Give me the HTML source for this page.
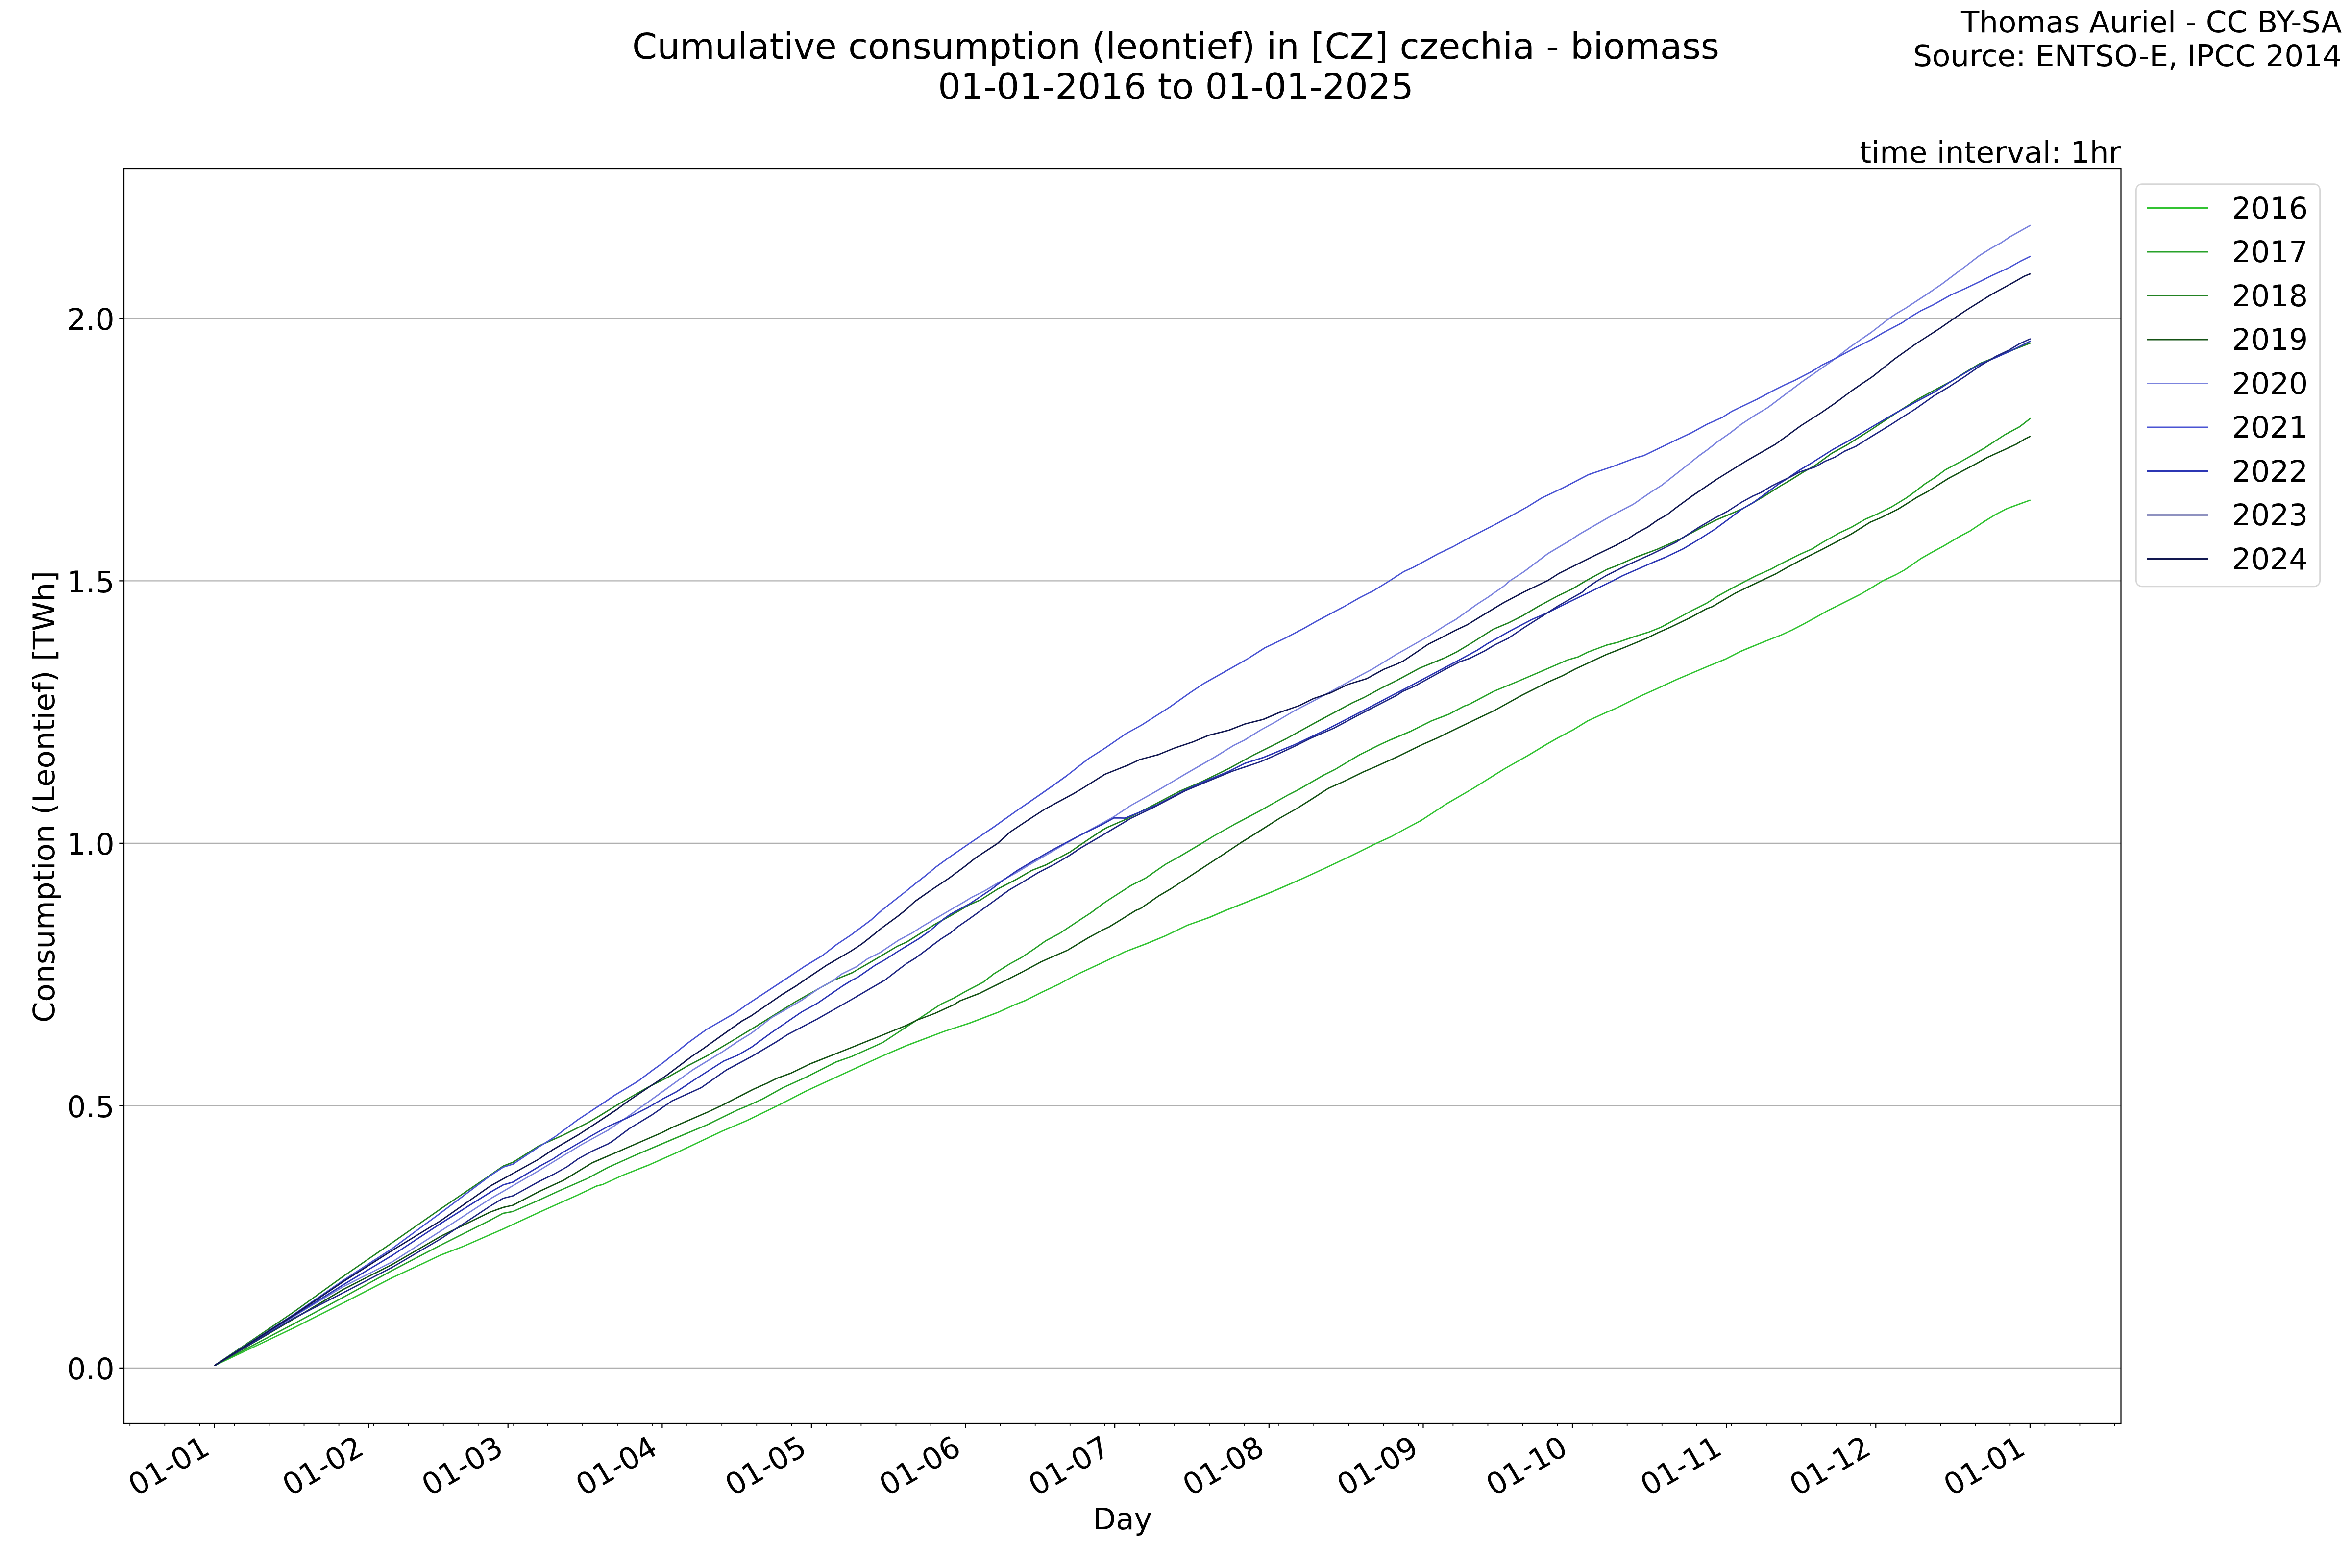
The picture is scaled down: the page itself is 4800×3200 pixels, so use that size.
<!DOCTYPE html>
<html><head><meta charset="utf-8"><title>Cumulative consumption</title>
<style>html,body{margin:0;padding:0;background:#fff}svg{display:block}text{font-family:"DejaVu Sans","Liberation Sans",sans-serif;fill:#000}</style></head><body>
<svg width="4800" height="3200" viewBox="0 0 4800 3200">
<rect width="4800" height="3200" fill="#fff"/>
<line x1="253.0" x2="4328.5" y1="2791.80" y2="2791.80" stroke="#b0b0b0" stroke-width="2.22"/>
<line x1="253.0" x2="4328.5" y1="2256.35" y2="2256.35" stroke="#b0b0b0" stroke-width="2.22"/>
<line x1="253.0" x2="4328.5" y1="1720.90" y2="1720.90" stroke="#b0b0b0" stroke-width="2.22"/>
<line x1="253.0" x2="4328.5" y1="1185.45" y2="1185.45" stroke="#b0b0b0" stroke-width="2.22"/>
<line x1="253.0" x2="4328.5" y1="650.00" y2="650.00" stroke="#b0b0b0" stroke-width="2.22"/>
<clipPath id="c"><rect x="253.0" y="344.0" width="4075.5" height="2561.0"/></clipPath>
<g clip-path="url(#c)" fill="none" stroke-width="2.78" stroke-linejoin="round" stroke-linecap="butt">
<polyline stroke="#32c332" points="437.6,2787.0 600.0,2709.8 700.0,2659.3 800.0,2607.8 864.8,2577.7 900.0,2561.1 946.4,2543.2 1000.0,2519.7 1025.5,2508.8 1100.0,2474.3 1147.8,2452.8 1179.7,2438.5 1218.0,2420.3 1230.7,2417.1 1272.2,2398.0 1323.2,2377.9 1380.6,2352.4 1473.1,2308.7 1524.1,2287.0 1587.9,2256.1 1645.3,2226.4 1721.8,2191.3 1801.5,2154.7 1850.0,2133.9 1927.3,2104.7 1978.3,2088.1 2035.7,2066.4 2070.8,2050.5 2093.1,2041.6 2125.0,2025.6 2163.3,2007.4 2195.2,1989.9 2250.0,1964.4 2295.7,1942.5 2340.3,1925.6 2378.6,1909.7 2423.2,1888.3 2467.9,1872.4 2499.7,1858.6 2541.2,1842.1 2589.0,1822.9 2611.4,1813.4 2659.2,1792.6 2703.8,1771.9 2761.2,1744.8 2805.9,1722.5 2837.8,1708.1 2869.6,1690.6 2901.5,1673.7 2950.0,1641.8 3007.3,1608.4 3071.0,1568.6 3118.9,1541.5 3157.1,1518.5 3179.5,1505.8 3211.4,1488.9 3240.1,1471.3 3278.3,1453.8 3297.4,1445.8 3348.5,1420.3 3380.4,1406.0 3421.8,1386.8 3485.6,1359.7 3520.7,1345.4 3550.0,1330.4 3564.8,1324.1 3599.9,1309.8 3634.9,1296.0 3657.3,1285.8 3682.8,1272.4 3705.1,1260.3 3727.4,1247.6 3756.1,1233.2 3794.4,1214.1 3816.7,1201.3 3842.2,1185.4 3867.7,1173.6 3886.9,1163.1 3918.8,1140.8 3941.1,1128.0 3966.6,1114.3 3998.5,1095.2 4020.8,1083.4 4049.5,1064.2 4071.8,1050.5 4094.1,1038.7 4106.9,1033.9 4143.6,1020.5"/>
<polyline stroke="#28a22a" points="437.6,2787.0 600.0,2701.4 700.0,2647.8 800.0,2593.0 900.0,2540.7 1000.0,2490.4 1026.8,2476.1 1047.2,2472.3 1100.0,2449.3 1138.3,2431.4 1198.9,2405.0 1240.3,2382.7 1297.7,2357.1 1371.0,2325.9 1444.4,2295.0 1463.5,2285.4 1505.0,2265.3 1527.3,2256.1 1556.0,2243.0 1597.4,2220.0 1645.3,2198.3 1705.9,2167.4 1737.8,2156.2 1801.5,2127.6 1850.0,2095.7 1871.5,2081.7 1920.9,2048.9 1946.4,2037.1 1968.8,2024.3 2007.0,2004.2 2029.3,1986.7 2061.2,1966.9 2083.5,1954.8 2112.2,1935.7 2134.6,1919.7 2163.3,1904.4 2201.5,1878.9 2227.0,1862.3 2250.0,1844.8 2263.8,1835.7 2308.4,1807.0 2337.1,1792.6 2378.6,1763.9 2407.3,1748.0 2451.9,1721.5 2477.4,1705.9 2518.9,1682.6 2569.9,1655.5 2630.5,1621.4 2649.6,1611.8 2700.6,1582.2 2726.1,1569.4 2774.0,1540.7 2815.4,1520.0 2838.3,1509.6 2879.7,1492.1 2921.2,1471.3 2956.2,1457.9 2988.1,1441.0 2997.7,1437.8 3048.7,1410.7 3096.6,1391.0 3150.8,1367.7 3198.6,1347.0 3220.9,1340.6 3240.1,1331.0 3278.3,1316.7 3300.6,1311.2 3335.7,1299.1 3364.4,1290.2 3389.9,1280.0 3450.0,1247.6 3481.9,1231.6 3504.2,1217.3 3536.1,1199.7 3564.8,1184.8 3583.9,1174.9 3615.8,1160.8 3631.8,1151.9 3673.2,1131.2 3698.7,1120.0 3717.9,1107.9 3752.9,1088.1 3778.4,1076.0 3807.1,1059.4 3832.7,1048.3 3861.4,1033.9 3890.1,1016.4 3909.2,1002.7 3928.3,987.7 3950.6,973.3 3969.8,959.0 4001.7,942.1 4032.2,924.7 4051.4,913.5 4070.5,900.8 4092.8,886.4 4121.5,871.1 4143.9,853.6"/>
<polyline stroke="#228222" points="437.6,2787.0 600.0,2677.1 700.0,2605.2 800.0,2536.3 900.0,2466.7 1000.0,2398.6 1026.8,2379.9 1047.2,2371.8 1100.0,2338.4 1147.8,2317.3 1198.9,2291.8 1224.4,2276.8 1259.4,2255.1 1278.6,2243.9 1323.2,2218.4 1361.5,2199.3 1406.1,2173.8 1442.8,2154.7 1501.8,2119.6 1546.4,2092.5 1623.0,2044.6 1674.0,2015.9 1702.7,2000.0 1739.2,1985.1 1780.6,1961.2 1831.6,1930.9 1850.8,1922.3 1908.2,1886.3 1940.1,1868.7 1978.3,1846.4 2000.6,1836.8 2035.7,1814.5 2074.0,1794.7 2105.9,1776.2 2134.6,1765.1 2182.4,1739.6 2217.5,1715.7 2250.0,1694.0 2259.4,1688.8 2296.1,1672.8 2355.1,1642.5 2406.1,1615.4 2450.8,1596.3 2508.2,1568.2 2556.0,1542.1 2623.0,1508.6 2686.7,1473.5 2760.1,1434.3 2782.4,1424.1 2820.7,1403.4 2850.0,1389.0 2896.7,1363.7 2947.7,1342.9 2973.2,1330.2 3005.1,1311.1 3046.6,1284.6 3078.4,1271.2 3107.1,1256.8 3139.0,1237.7 3180.5,1215.4 3209.2,1201.7 3237.9,1184.5 3279.3,1162.1 3298.5,1154.8 3339.9,1136.6 3381.4,1121.3 3426.0,1101.6 3467.5,1079.2 3500.0,1062.3 3523.3,1052.4 3555.2,1038.7 3577.6,1026.0 3603.1,1011.0 3634.9,990.9 3654.1,979.7 3679.6,963.8 3705.1,949.4 3738.9,924.7 3770.8,907.2 3818.6,876.9 3866.4,845.0 3911.1,816.3 3946.1,797.1 3981.2,778.6 4009.9,760.5 4041.8,741.3 4073.7,728.6 4105.6,714.9 4143.9,699.9"/>
<polyline stroke="#155215" points="437.6,2787.0 600.0,2691.2 700.0,2631.7 800.0,2580.7 900.0,2522.8 1000.0,2473.8 1026.8,2464.1 1047.2,2459.5 1100.0,2431.7 1151.0,2408.2 1208.4,2373.1 1278.6,2342.8 1351.9,2310.9 1371.0,2301.3 1444.4,2269.5 1473.1,2256.1 1536.9,2223.2 1565.6,2210.5 1584.7,2200.9 1613.4,2190.4 1654.8,2170.6 1737.8,2137.8 1801.5,2112.2 1850.0,2092.5 1871.5,2081.7 1908.2,2068.0 1946.4,2050.5 1959.2,2042.5 2000.6,2026.6 2026.1,2013.8 2058.0,1997.9 2083.5,1985.1 2125.0,1962.8 2144.1,1954.2 2179.2,1938.9 2201.5,1925.5 2220.7,1914.0 2250.0,1898.1 2263.8,1891.5 2318.0,1858.0 2327.6,1854.2 2365.8,1827.7 2391.3,1812.7 2467.9,1762.3 2499.7,1741.6 2531.6,1720.3 2576.3,1692.2 2611.4,1669.9 2646.4,1650.1 2678.3,1630.0 2710.2,1609.3 2742.1,1594.9 2783.5,1574.8 2805.9,1565.3 2850.5,1544.9 2901.5,1520.0 2933.9,1505.8 2978.6,1484.1 3048.7,1450.6 3106.1,1418.7 3160.3,1391.6 3189.0,1378.9 3214.5,1365.5 3278.3,1335.8 3316.6,1320.8 3361.2,1302.3 3383.5,1291.2 3409.1,1280.0 3450.0,1260.3 3481.9,1242.8 3494.6,1238.0 3542.5,1209.9 3593.5,1185.4 3625.4,1170.4 3647.7,1157.7 3679.6,1140.8 3721.0,1120.0 3778.4,1089.7 3816.7,1065.8 3839.0,1056.2 3874.1,1038.7 3912.4,1014.8 3934.7,1002.7 3976.1,976.5 4030.4,947.8 4055.9,933.5 4089.6,918.3 4115.2,906.2 4131.1,896.6 4143.9,890.3"/>
<polyline stroke="#7c84de" points="437.6,2787.0 600.0,2686.1 700.0,2626.1 800.0,2575.6 900.0,2511.8 1000.0,2446.8 1100.0,2388.9 1186.1,2336.4 1218.0,2318.9 1240.3,2306.8 1278.6,2280.6 1323.2,2248.7 1351.9,2228.0 1380.6,2207.3 1412.5,2184.3 1473.1,2147.3 1505.0,2126.0 1533.7,2108.4 1575.1,2076.5 1635.7,2041.5 1670.8,2017.5 1699.5,2001.6 1716.8,1988.3 1748.7,1972.4 1771.0,1956.4 1796.6,1943.7 1834.8,1918.2 1860.3,1904.8 1882.7,1890.4 1911.4,1873.5 1940.1,1856.6 1968.8,1840.0 1981.5,1832.1 2010.2,1817.7 2042.1,1798.6 2074.0,1781.0 2105.9,1761.9 2144.1,1739.6 2201.5,1706.1 2250.0,1679.6 2273.8,1666.4 2307.3,1644.1 2361.5,1613.8 2396.6,1593.1 2418.9,1579.7 2476.3,1546.8 2517.7,1521.3 2540.1,1510.2 2571.9,1490.4 2603.8,1472.9 2638.9,1452.1 2680.4,1430.5 2725.0,1406.5 2769.6,1382.0 2801.5,1365.1 2850.0,1335.4 2912.6,1299.9 2947.7,1277.6 2970.0,1264.8 3014.7,1232.9 3037.0,1218.6 3068.9,1196.3 3081.6,1185.1 3110.3,1166.6 3158.2,1130.3 3202.8,1103.8 3221.9,1091.0 3292.1,1050.5 3333.5,1028.9 3371.8,1002.7 3390.9,990.6 3438.8,953.0 3467.5,930.0 3483.8,918.3 3506.1,900.8 3531.6,883.2 3553.9,865.7 3579.4,848.8 3608.1,831.6 3643.2,805.1 3678.3,778.6 3707.0,758.9 3738.9,736.6 3777.1,707.2 3818.6,678.5 3860.1,646.6 3869.6,640.3 3888.8,629.1 3930.2,602.0 3962.1,580.3 3994.0,556.4 4013.1,542.0 4038.6,522.3 4064.1,506.3 4083.3,495.8 4102.4,483.0 4143.9,459.8"/>
<polyline stroke="#4a54d3" points="437.6,2787.0 600.0,2682.2 700.0,2613.4 800.0,2548.3 900.0,2474.8 1000.0,2399.6 1026.8,2382.0 1047.2,2375.6 1100.0,2340.4 1131.9,2320.5 1179.7,2284.8 1227.6,2253.5 1253.1,2236.0 1300.9,2207.3 1332.8,2183.4 1355.1,2167.4 1402.9,2129.1 1441.2,2101.4 1501.8,2066.3 1524.1,2050.4 1600.6,2000.0 1640.3,1973.3 1678.6,1950.0 1707.3,1927.7 1736.0,1908.6 1777.4,1877.7 1799.7,1857.6 1844.4,1822.5 1869.9,1801.8 1889.0,1786.8 1911.4,1768.3 1940.1,1747.6 1978.3,1721.4 2029.3,1687.0 2074.0,1655.1 2125.0,1620.0 2154.2,1599.5 2176.5,1583.5 2221.2,1548.4 2256.2,1526.1 2297.7,1497.4 2329.6,1479.9 2387.0,1443.2 2428.4,1413.9 2457.1,1394.7 2508.2,1366.0 2546.4,1344.4 2581.5,1322.0 2623.0,1302.3 2661.2,1282.2 2686.7,1267.8 2740.9,1239.1 2774.4,1220.0 2804.2,1204.9 2836.1,1185.1 2864.8,1166.6 2883.9,1158.0 2934.9,1130.3 2966.8,1114.9 2995.5,1099.0 3056.1,1067.8 3088.0,1050.5 3116.7,1034.6 3145.4,1016.7 3190.1,995.4 3241.1,968.9 3292.1,951.7 3339.9,933.8 3354.3,930.0 3420.0,898.2 3451.9,883.2 3483.8,865.7 3515.7,851.4 3534.8,839.2 3585.8,814.7 3617.7,797.8 3643.2,785.0 3662.3,776.4 3697.4,758.2 3716.6,746.1 3745.3,731.8 3786.7,709.5 3818.6,693.5 3844.1,678.5 3882.4,658.4 3898.3,647.3 3920.6,633.9 3946.1,621.8 3981.2,602.0 4009.9,589.2 4041.8,573.9 4064.1,562.8 4099.2,546.8 4121.5,534.1 4143.9,522.9"/>
<polyline stroke="#2c36b4" points="437.6,2787.0 600.0,2685.1 700.0,2622.3 800.0,2562.3 900.0,2496.5 1000.0,2433.5 1026.8,2418.2 1047.2,2412.3 1100.0,2380.7 1128.7,2365.1 1147.8,2352.4 1205.2,2318.9 1240.3,2299.1 1278.6,2282.2 1323.2,2259.9 1351.9,2243.0 1380.6,2228.0 1422.1,2200.3 1476.3,2165.8 1505.0,2153.7 1533.7,2137.1 1575.1,2106.8 1635.7,2065.4 1667.6,2047.8 1718.6,2012.8 1739.3,2000.0 1748.7,1995.6 1787.0,1969.2 1806.1,1958.6 1831.6,1942.1 1876.3,1915.0 1898.6,1899.0 1924.1,1876.7 1940.1,1865.5 1978.3,1844.8 2023.0,1815.2 2042.1,1800.2 2074.0,1777.8 2105.9,1758.7 2144.1,1736.4 2201.5,1706.1 2250.0,1682.2 2273.8,1669.0 2296.1,1669.6 2323.2,1658.5 2361.5,1642.5 2418.9,1612.2 2450.8,1597.9 2508.2,1574.0 2540.1,1558.0 2578.3,1545.9 2642.1,1519.7 2705.9,1489.5 2753.7,1464.9 2801.5,1440.0 2850.0,1414.5 2877.6,1400.3 2922.2,1376.4 2979.6,1346.1 3014.7,1327.0 3037.0,1312.7 3081.6,1287.8 3126.3,1264.2 3158.2,1250.5 3202.8,1228.2 3247.4,1206.8 3292.1,1185.1 3311.2,1174.9 3371.8,1148.4 3400.5,1136.6 3435.6,1119.7 3467.5,1100.6 3500.0,1079.9 3532.9,1055.6 3555.2,1038.7 3577.6,1026.0 3599.9,1010.0 3628.6,988.6 3647.7,976.5 3673.2,959.0 3692.3,947.8 3738.9,918.3 3770.8,900.8 3818.6,872.1 3866.4,844.3 3911.1,819.5 3946.1,801.0 3981.2,778.6 4009.9,761.4 4041.8,742.9 4073.7,729.5 4105.6,714.9 4143.9,696.1"/>
<polyline stroke="#202782" points="437.6,2787.0 600.0,2689.9 700.0,2638.4 800.0,2586.6 900.0,2527.9 1000.0,2461.6 1026.8,2445.5 1047.2,2440.4 1100.0,2411.3 1131.9,2395.4 1157.4,2381.1 1179.7,2365.1 1208.4,2349.2 1240.3,2334.8 1249.9,2329.1 1284.9,2302.9 1329.6,2275.8 1371.0,2247.1 1431.6,2219.4 1482.7,2183.4 1533.7,2156.2 1584.7,2126.0 1607.0,2111.6 1667.6,2079.7 1737.8,2039.9 1776.0,2017.5 1806.3,2000.0 1831.6,1980.3 1850.8,1966.0 1869.9,1954.2 1905.0,1927.7 1920.9,1915.9 1940.1,1903.8 1952.8,1892.6 1978.3,1875.1 2010.2,1852.1 2061.2,1815.2 2083.5,1802.4 2118.6,1781.0 2153.7,1762.9 2182.4,1746.0 2204.7,1731.0 2250.0,1704.5 2273.8,1690.3 2307.3,1670.3 2355.1,1647.3 2418.9,1613.8 2466.7,1593.7 2514.5,1574.0 2571.9,1554.8 2597.4,1543.7 2642.1,1522.9 2674.0,1507.0 2721.8,1486.3 2769.6,1460.8 2801.5,1444.2 2850.0,1419.3 2861.6,1411.5 2887.1,1400.3 2947.7,1366.9 2979.6,1350.3 2998.7,1343.9 3030.6,1328.0 3049.7,1316.5 3078.4,1302.4 3110.3,1280.8 3158.2,1250.5 3180.5,1236.1 3202.8,1223.4 3228.3,1209.0 3241.1,1197.9 3260.2,1185.1 3279.3,1173.9 3320.8,1153.2 3371.8,1130.3 3419.6,1107.0 3467.5,1076.0 3500.0,1056.9 3526.5,1042.9 3555.2,1024.4 3577.6,1012.2 3593.5,1005.2 3615.8,991.8 3634.9,982.3 3654.1,973.3 3673.2,963.1 3705.1,952.6 3724.2,941.5 3745.3,932.7 3764.4,920.9 3786.7,911.3 3818.6,891.2 3856.9,867.9 3882.4,851.4 3907.9,835.4 3946.1,808.3 3978.0,789.2 4009.9,768.4 4041.8,746.1 4073.7,727.0 4099.2,714.9 4121.5,701.5 4143.9,691.3"/>
<polyline stroke="#121850" points="437.6,2787.0 600.0,2683.5 700.0,2615.9 800.0,2552.1 900.0,2490.9 1000.0,2420.8 1100.0,2365.4 1128.7,2346.0 1179.7,2316.3 1224.4,2287.0 1259.4,2264.0 1281.8,2247.1 1323.2,2219.4 1358.3,2196.1 1412.5,2155.3 1434.8,2140.3 1514.5,2083.5 1533.7,2072.7 1597.4,2028.7 1626.1,2011.2 1642.1,2000.0 1688.1,1969.2 1736.0,1941.4 1758.3,1926.8 1777.4,1911.8 1799.7,1893.6 1831.6,1870.3 1847.6,1857.6 1866.7,1840.0 1898.6,1817.7 1936.9,1792.2 1968.8,1768.3 1991.1,1750.7 2035.7,1721.4 2061.2,1698.1 2099.5,1672.6 2131.4,1651.9 2153.7,1639.8 2190.4,1620.0 2211.6,1607.4 2254.7,1580.3 2304.1,1560.6 2326.4,1550.0 2364.7,1539.8 2396.6,1526.8 2434.8,1514.0 2466.7,1500.6 2508.2,1490.1 2540.1,1477.7 2578.3,1468.1 2610.2,1454.4 2651.7,1440.0 2680.4,1425.7 2715.4,1413.9 2750.5,1397.0 2788.8,1385.2 2823.9,1366.0 2850.0,1355.5 2864.8,1348.4 2887.1,1333.4 2915.8,1314.2 2941.3,1301.5 2970.0,1286.5 2995.5,1274.4 3024.2,1256.8 3068.9,1229.7 3110.3,1208.1 3158.2,1185.1 3180.5,1170.8 3199.6,1161.2 3221.9,1150.0 3257.0,1132.5 3298.5,1112.4 3320.8,1100.6 3339.9,1087.8 3362.2,1076.0 3381.4,1062.3 3402.1,1050.5 3419.6,1036.8 3451.5,1013.5 3500.0,980.4 3565.1,940.0 3624.1,906.2 3675.1,868.9 3716.6,842.4 3745.3,822.7 3780.3,796.5 3802.7,781.2 3821.8,768.4 3866.4,732.7 3911.1,700.8 3958.9,670.2 3994.0,645.7 4013.1,632.9 4064.1,601.0 4108.8,576.5 4131.1,563.7 4143.9,558.6"/>
</g>
<path d="M437.80 2905.0v9.72M752.48 2905.0v9.72M1036.71 2905.0v9.72M1351.39 2905.0v9.72M1655.92 2905.0v9.72M1970.60 2905.0v9.72M2275.13 2905.0v9.72M2589.81 2905.0v9.72M2904.49 2905.0v9.72M3209.02 2905.0v9.72M3523.70 2905.0v9.72M3828.23 2905.0v9.72M4142.91 2905.0v9.72" stroke="#000" stroke-width="2.22" fill="none"/>
<path d="M265.23 2905.0v5.56M336.29 2905.0v5.56M407.35 2905.0v5.56M478.40 2905.0v5.56M549.46 2905.0v5.56M620.52 2905.0v5.56M691.58 2905.0v5.56M762.63 2905.0v5.56M833.69 2905.0v5.56M904.75 2905.0v5.56M975.80 2905.0v5.56M1046.86 2905.0v5.56M1117.92 2905.0v5.56M1188.97 2905.0v5.56M1260.03 2905.0v5.56M1331.09 2905.0v5.56M1402.14 2905.0v5.56M1473.20 2905.0v5.56M1544.26 2905.0v5.56M1615.32 2905.0v5.56M1686.37 2905.0v5.56M1757.43 2905.0v5.56M1828.49 2905.0v5.56M1899.54 2905.0v5.56M1970.60 2905.0v5.56M2041.66 2905.0v5.56M2112.72 2905.0v5.56M2183.77 2905.0v5.56M2254.83 2905.0v5.56M2325.89 2905.0v5.56M2396.94 2905.0v5.56M2468.00 2905.0v5.56M2539.06 2905.0v5.56M2610.11 2905.0v5.56M2681.17 2905.0v5.56M2752.23 2905.0v5.56M2823.29 2905.0v5.56M2894.34 2905.0v5.56M2965.40 2905.0v5.56M3036.46 2905.0v5.56M3107.51 2905.0v5.56M3178.57 2905.0v5.56M3249.63 2905.0v5.56M3320.68 2905.0v5.56M3391.74 2905.0v5.56M3462.80 2905.0v5.56M3533.86 2905.0v5.56M3604.91 2905.0v5.56M3675.97 2905.0v5.56M3747.03 2905.0v5.56M3818.08 2905.0v5.56M3889.14 2905.0v5.56M3960.20 2905.0v5.56M4031.25 2905.0v5.56M4102.31 2905.0v5.56M4173.37 2905.0v5.56M4244.43 2905.0v5.56M4315.48 2905.0v5.56" stroke="#000" stroke-width="1.67" fill="none"/>
<path d="M253.0 2791.80h-9.72M253.0 2256.35h-9.72M253.0 1720.90h-9.72M253.0 1185.45h-9.72M253.0 650.00h-9.72" stroke="#000" stroke-width="2.22" fill="none"/>
<rect x="253.0" y="344.0" width="4075.5" height="2561.0" fill="none" stroke="#000" stroke-width="2.22"/>
<text x="233.6" y="2815.00" font-size="61.11" text-anchor="end">0.0</text>
<text x="233.6" y="2279.55" font-size="61.11" text-anchor="end">0.5</text>
<text x="233.6" y="1744.10" font-size="61.11" text-anchor="end">1.0</text>
<text x="233.6" y="1208.65" font-size="61.11" text-anchor="end">1.5</text>
<text x="233.6" y="673.20" font-size="61.11" text-anchor="end">2.0</text>
<text transform="translate(431.80,2965.5) rotate(-30)" font-size="61.11" text-anchor="end">01-01</text>
<text transform="translate(746.48,2965.5) rotate(-30)" font-size="61.11" text-anchor="end">01-02</text>
<text transform="translate(1030.71,2965.5) rotate(-30)" font-size="61.11" text-anchor="end">01-03</text>
<text transform="translate(1345.39,2965.5) rotate(-30)" font-size="61.11" text-anchor="end">01-04</text>
<text transform="translate(1649.92,2965.5) rotate(-30)" font-size="61.11" text-anchor="end">01-05</text>
<text transform="translate(1964.60,2965.5) rotate(-30)" font-size="61.11" text-anchor="end">01-06</text>
<text transform="translate(2269.13,2965.5) rotate(-30)" font-size="61.11" text-anchor="end">01-07</text>
<text transform="translate(2583.81,2965.5) rotate(-30)" font-size="61.11" text-anchor="end">01-08</text>
<text transform="translate(2898.49,2965.5) rotate(-30)" font-size="61.11" text-anchor="end">01-09</text>
<text transform="translate(3203.02,2965.5) rotate(-30)" font-size="61.11" text-anchor="end">01-10</text>
<text transform="translate(3517.70,2965.5) rotate(-30)" font-size="61.11" text-anchor="end">01-11</text>
<text transform="translate(3822.23,2965.5) rotate(-30)" font-size="61.11" text-anchor="end">01-12</text>
<text transform="translate(4136.91,2965.5) rotate(-30)" font-size="61.11" text-anchor="end">01-01</text>
<text x="2290.5" y="3121.4" font-size="61.11" text-anchor="middle">Day</text>
<text transform="translate(110.5,1626) rotate(-90)" font-size="61.11" text-anchor="middle">Consumption (Leontief) [TWh]</text>
<text x="2399.5" y="119.5" font-size="73.2" text-anchor="middle">Cumulative consumption (leontief) in [CZ] czechia - biomass</text>
<text x="2399.5" y="202" font-size="73.2" text-anchor="middle">01-01-2016 to 01-01-2025</text>
<text x="4779" y="66.3" font-size="61.11" text-anchor="end">Thomas Auriel - CC BY-SA</text>
<text x="4779" y="135.2" font-size="61.11" text-anchor="end">Source: ENTSO-E, IPCC 2014</text>
<text x="4328.5" y="331.6" font-size="61.11" text-anchor="end">time interval: 1hr</text>
<rect x="4359.4" y="375.6" width="375.2" height="821.3" rx="12.2" ry="12.2" fill="#fff" fill-opacity="0.8" stroke="#cccccc" stroke-opacity="0.8" stroke-width="2.78"/>
<line x1="4382" x2="4507" y1="424.50" y2="424.50" stroke="#32c332" stroke-width="2.78"/>
<text x="4554.7" y="445.50" font-size="61.11">2016</text>
<line x1="4382" x2="4507" y1="514.00" y2="514.00" stroke="#28a22a" stroke-width="2.78"/>
<text x="4554.7" y="535.00" font-size="61.11">2017</text>
<line x1="4382" x2="4507" y1="603.50" y2="603.50" stroke="#228222" stroke-width="2.78"/>
<text x="4554.7" y="624.50" font-size="61.11">2018</text>
<line x1="4382" x2="4507" y1="693.00" y2="693.00" stroke="#155215" stroke-width="2.78"/>
<text x="4554.7" y="714.00" font-size="61.11">2019</text>
<line x1="4382" x2="4507" y1="782.50" y2="782.50" stroke="#7c84de" stroke-width="2.78"/>
<text x="4554.7" y="803.50" font-size="61.11">2020</text>
<line x1="4382" x2="4507" y1="872.00" y2="872.00" stroke="#4a54d3" stroke-width="2.78"/>
<text x="4554.7" y="893.00" font-size="61.11">2021</text>
<line x1="4382" x2="4507" y1="961.50" y2="961.50" stroke="#2c36b4" stroke-width="2.78"/>
<text x="4554.7" y="982.50" font-size="61.11">2022</text>
<line x1="4382" x2="4507" y1="1051.00" y2="1051.00" stroke="#202782" stroke-width="2.78"/>
<text x="4554.7" y="1072.00" font-size="61.11">2023</text>
<line x1="4382" x2="4507" y1="1140.50" y2="1140.50" stroke="#121850" stroke-width="2.78"/>
<text x="4554.7" y="1161.50" font-size="61.11">2024</text>
</svg></body></html>
